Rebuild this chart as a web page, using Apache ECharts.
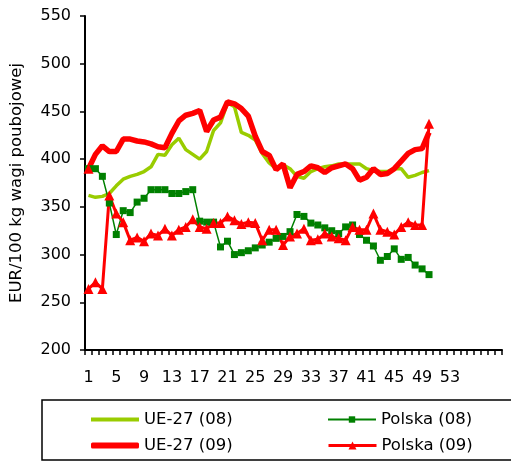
<!DOCTYPE html>
<html>
<head>
<meta charset="utf-8">
<script src="https://cdn.jsdelivr.net/npm/echarts@6/dist/echarts.min.js"></script>
<style>
  html, body { margin: 0; padding: 0; background: #fff; }
  #chart { width: 511px; height: 462px; }
</style>
</head>
<body>
<div id="chart"></div>
<script>
// Week numbers on the category axis (extra blank slots keep the axis running past week 53)
var WEEKS = ['1','2','3','4','5','6','7','8','9','10','11','12','13','14','15','16','17','18','19','20',
  '21','22','23','24','25','26','27','28','29','30','31','32','33','34','35','36','37','38','39','40',
  '41','42','43','44','45','46','47','48','49','50','51','52','53','','','','','','',''];

// Prices, EUR/100 kg carcass weight
var UE27_08 = [362,360,361,364,372,379,382,384,387,392, 405,404,415,422,410,405,400,408,430,438,
  459,455,428,425,420,406,396,390,394,390, 382,380,387,390,392,393,395,395,395,395,
  390,388,387,387,390,390,381,383,386,388];
var POLSKA_08 = [390,390,382,354,321,346,344,355,359,368, 368,368,364,364,366,368,335,334,334,308,
  314,300,302,304,307,310,313,317,319,324, 342,340,333,331,328,325,322,329,331,321,
  315,309,294,298,306,295,297,289,285,279];
var UE27_09 = [390,405,414,408,408,421,421,419,418,416, 413,412,427,440,446,448,451,429,441,444,
  460,458,453,445,424,408,404,389,395,370, 384,387,393,391,386,391,393,395,390,378,
  381,390,384,385,390,398,406,410,411,428];
var POLSKA_09 = [264,271,264,362,343,334,315,318,314,322, 320,327,320,326,329,337,329,327,333,333,
  340,336,332,334,333,315,326,326,310,319, 322,327,315,316,322,319,317,315,329,326,
  326,343,326,324,321,329,334,331,331,437];

var Y_MIN = 200, Y_MAX = 550, Y_STEP = 50;

var FONT = 'DejaVu Sans';
var LIGHT_GREEN = '#99CC00', DARK_GREEN = '#008000', RED = '#FF0000';

// First EU-27 2009 point carries a triangle marker
var ue09Data = UE27_09.map(function (v, i) {
  return i === 0 ? { value: v, symbol: 'triangle', symbolSize: 10 } : v;
});

var chart = echarts.init(document.getElementById('chart'), null, { renderer: 'canvas' });

// One legend block per entry so the four entries sit in a 2x2 layout
function legendAt(item, left, top, iconHeight, lineWidth) {
  var cfg = {
    data: [item], left: left, top: top, orient: 'horizontal',
    itemWidth: 48, itemHeight: iconHeight, itemGap: 0,
    textStyle: { fontFamily: FONT, fontSize: 16.5, color: '#000' },
    selectedMode: false
  };
  if (lineWidth) cfg.lineStyle = { width: lineWidth };
  return cfg;
}

chart.setOption({
  animation: false,
  backgroundColor: '#fff',
  grid: { left: 83, top: 16, right: 9, bottom: 112, containLabel: false },
  xAxis: {
    type: 'category',
    data: WEEKS,
    boundaryGap: true,
    axisLine: { lineStyle: { color: '#000', width: 2 } },
    axisTick: { show: true, interval: 0, length: 5, lineStyle: { color: '#000', width: 1.5 } },
    axisLabel: { interval: 3, fontFamily: FONT, fontSize: 16, color: '#000', margin: 20 },
    splitLine: { show: false }
  },
  yAxis: {
    type: 'value',
    min: Y_MIN, max: Y_MAX, interval: Y_STEP,
    name: 'EUR/100 kg wagi poubojowej',
    nameLocation: 'middle',
    nameRotate: 90,
    nameGap: 60,
    nameTextStyle: { fontFamily: FONT, fontSize: 16.5, color: '#000' },
    axisLine: { show: true, lineStyle: { color: '#000', width: 2 } },
    axisTick: { show: true, length: 5, lineStyle: { color: '#000', width: 1.5 } },
    axisLabel: { fontFamily: FONT, fontSize: 16, color: '#000', margin: 14 },
    splitLine: { show: false }
  },
  legend: [
    legendAt({ name: 'UE-27 (08)', icon: 'rect' }, 86, 406, 4),
    legendAt({ name: 'UE-27 (09)', icon: 'roundRect' }, 86, 432, 6),
    legendAt('Polska (08)', 322, 406, 8, 2),
    legendAt('Polska (09)', 322, 432, 10, 3)
  ],
  graphic: [{
    type: 'rect',
    shape: { x: 42, y: 400, width: 475, height: 60 },
    style: { fill: 'none', stroke: '#000', lineWidth: 1.5 },
    silent: true
  }],
  series: [
    {
      name: 'UE-27 (08)', type: 'line', data: UE27_08,
      symbol: 'none', showSymbol: false,
      lineStyle: { color: LIGHT_GREEN, width: 3.5 },
      itemStyle: { color: LIGHT_GREEN }
    },
    {
      name: 'Polska (08)', type: 'line', data: POLSKA_08,
      symbol: 'rect', symbolSize: 7, showAllSymbol: true,
      lineStyle: { color: DARK_GREEN, width: 1.5 },
      itemStyle: { color: DARK_GREEN }
    },
    {
      name: 'UE-27 (09)', type: 'line', data: ue09Data,
      symbol: 'none', showSymbol: true, showAllSymbol: true,
      lineStyle: { color: RED, width: 5.5 },
      itemStyle: { color: RED }
    },
    {
      name: 'Polska (09)', type: 'line', data: POLSKA_09,
      symbol: 'triangle', symbolSize: 10, showAllSymbol: true,
      lineStyle: { color: RED, width: 3 },
      itemStyle: { color: RED }
    }
  ]
});
</script>
</body>
</html>
